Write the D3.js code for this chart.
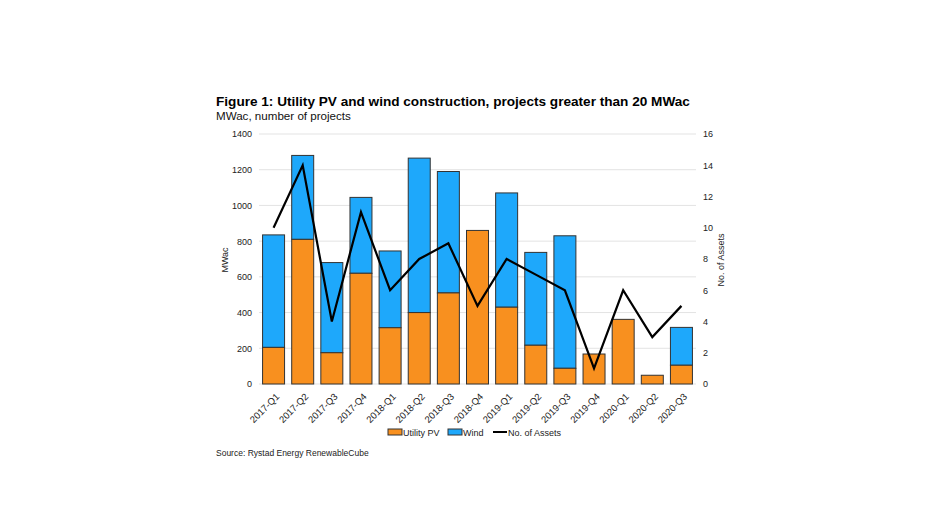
<!DOCTYPE html>
<html>
<head>
<meta charset="utf-8">
<script src="https://d3js.org/d3.v7.min.js"></script>
<style>
body{margin:0;background:#fff;}
text{font-family:"Liberation Sans",Arial,sans-serif;}
</style>
</head>
<body>
<script>
var width = 944, height = 531;
var quarters = ["2017-Q1","2017-Q2","2017-Q3","2017-Q4","2018-Q1","2018-Q2","2018-Q3","2018-Q4",
"2019-Q1","2019-Q2","2019-Q3","2019-Q4","2020-Q1","2020-Q2","2020-Q3"];
var utilityPV = [205,810,175,620,315,400,510,860,430,217,88,168,362,49,105];
var wind = [630,470,505,425,430,865,680,0,640,520,742,0,0,0,212];
var assets = [10,14,4,11,6,8,9,5,8,7,6,1,6,3,5];
var leftTicks = [0,200,400,600,800,1000,1200,1400];
var rightTicks = [0,2,4,6,8,10,12,14,16];

var plotL = 259, plotR = 696, plotT = 134, plotB = 384;

var svg = d3.select("body").append("svg")
.attr("width",width).attr("height",height);

var x = d3.scaleBand().domain(quarters).range([plotL, plotR]).paddingInner(0.245).paddingOuter(0.1225);
var y = d3.scaleLinear().domain([0,1400]).range([plotB,plotT]);
var y2 = d3.scaleLinear().domain([0,16]).range([plotB,plotT]);

// gridlines
svg.append("g").selectAll("line").data(leftTicks).enter().append("line")
.attr("x1",plotL).attr("x2",plotR)
.attr("y1",function(d){return y(d);}).attr("y2",function(d){return y(d);})
.style("stroke","#e3e3e3").style("stroke-width",1);

// left axis
var yaxis = d3.axisLeft(y).tickValues(leftTicks).tickSize(0).tickPadding(7).tickFormat(d3.format("d"));
var ga = svg.append("g").attr("transform","translate(" + plotL + ",0)").call(yaxis);
ga.select(".domain").remove();
ga.selectAll("text").style("font-size","9px").style("fill","#222");

// right axis
var yaxis2 = d3.axisRight(y2).tickValues(rightTicks).tickSize(0).tickPadding(7);
var gb = svg.append("g").attr("transform","translate(" + plotR + ",0)").call(yaxis2);
gb.select(".domain").remove();
gb.selectAll("text").style("font-size","9px").style("fill","#222");

// bars
var rows = quarters.map(function(q,i){return {q:q, pv:utilityPV[i], wind:wind[i], n:assets[i]};});
var bars = svg.append("g");
bars.selectAll("rect.wind").data(rows.filter(function(d){return d.wind>0;})).enter().append("rect")
.attr("x",function(d){return x(d.q);})
.attr("width",x.bandwidth())
.attr("y",function(d){return y(d.pv+d.wind);})
.attr("height",function(d){return y(d.pv)-y(d.pv+d.wind);})
.style("fill","#1ea8fb").style("stroke","#333").style("stroke-width",1);
bars.selectAll("rect.pv").data(rows).enter().append("rect")
.attr("x",function(d){return x(d.q);})
.attr("width",x.bandwidth())
.attr("y",function(d){return y(d.pv);})
.attr("height",function(d){return y(0)-y(d.pv);})
.style("fill","#f8901f").style("stroke","#333").style("stroke-width",1);

// line
var line = d3.line()
.x(function(d){return x(d.q)+x.bandwidth()/2;})
.y(function(d){return y2(d.n);});
svg.append("path").datum(rows).attr("d",line)
.style("fill","none").style("stroke","#000").style("stroke-width",2.2);

// x labels
var xaxis = d3.axisBottom(x).tickSize(0).tickPadding(0);
var gx = svg.append("g").attr("transform","translate(0," + plotB + ")").call(xaxis);
gx.select(".domain").remove();
gx.selectAll("text").style("font-size","9.5px").style("fill","#222")
.attr("y",0).attr("dy","0.35em")
.attr("text-anchor","end")
.attr("transform","translate(4,11) rotate(-45)");

// axis titles
svg.append("text").attr("transform","translate(228,260) rotate(-90)")
.attr("text-anchor","middle").style("font-size","9px").style("fill","#222").text("MWac");
svg.append("text").attr("transform","translate(724,260) rotate(-90)")
.attr("text-anchor","middle").style("font-size","9px").style("fill","#222").text("No. of Assets");

// titles
svg.append("text").attr("x",216).attr("y",106).style("font-size","13.6px").style("font-weight","bold")
.style("fill","#000").text("Figure 1: Utility PV and wind construction, projects greater than 20 MWac");
svg.append("text").attr("x",216).attr("y",120).style("font-size","11.6px")
.style("fill","#111").text("MWac, number of projects");

// legend
var lg = svg.append("g").attr("transform","translate(0,432)");
lg.append("rect").attr("x",388).attr("y",-3).attr("width",14).attr("height",6)
.style("fill","#f8901f").style("stroke","#333").style("stroke-width",1);
lg.append("text").attr("x",403).attr("y",3.5).style("font-size","9px").style("fill","#222").text("Utility PV");
lg.append("rect").attr("x",448).attr("y",-3).attr("width",14).attr("height",6)
.style("fill","#1ea8fb").style("stroke","#333").style("stroke-width",1);
lg.append("text").attr("x",463).attr("y",3.5).style("font-size","9px").style("fill","#222").text("Wind");
lg.append("line").attr("x1",493).attr("x2",507).attr("y1",0).attr("y2",0)
.style("stroke","#000").style("stroke-width",2);
lg.append("text").attr("x",508).attr("y",3.5).style("font-size","9px").style("fill","#222").text("No. of Assets");

svg.append("text").attr("x",216).attr("y",456).style("font-size","8.5px").style("fill","#222")
.text("Source: Rystad Energy RenewableCube");
</script>
</body>
</html>
